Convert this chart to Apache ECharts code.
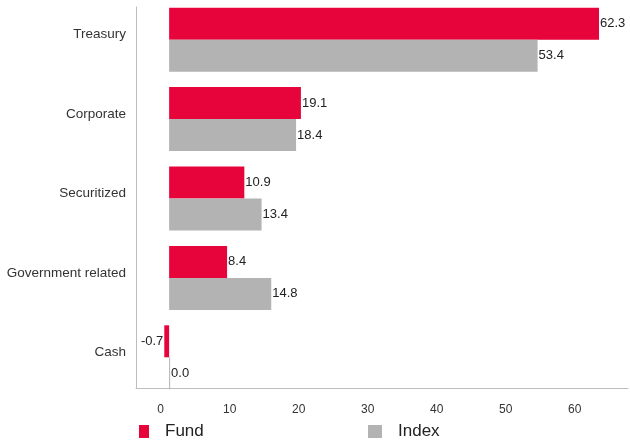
<!DOCTYPE html>
<html>
<head>
<meta charset="utf-8">
<script src="https://cdn.jsdelivr.net/npm/echarts@6/dist/echarts.min.js"></script>
<style>
  html, body { margin: 0; padding: 0; background: #fff; }
  #chart { width: 630px; height: 443px; }
</style>
</head>
<body>
<div id="chart"></div>
<script>
// data
var categories = ['Treasury', 'Corporate', 'Securitized', 'Government related', 'Cash'];
var fundValues = [62.3, 19.1, 10.9, 8.4, -0.7];
var indexValues = [53.4, 18.4, 13.4, 14.8, 0.0];
var xTicks = [0, 10, 20, 30, 40, 50, 60];

var FONT = '"Liberation Sans", Arial, sans-serif';
var RED = '#E6043B';
var GREY = '#B3B3B3';
var AXIS = '#BDBDBD';
var X_MIN = -4.8, X_MAX = 66.5;

// negative values get their label on the left side of the bar
var fundData = fundValues.map(function (v) {
  return v < 0 ? { value: v, label: { position: 'left' } } : v;
});

function fmt(p) { return Number(p.value).toFixed(1); }

var option = {
  animation: false,
  textStyle: { fontFamily: FONT },
  legend: [
    {
      data: ['Fund'], left: 139, top: 423, padding: 0,
      icon: 'rect', itemWidth: 10, itemHeight: 13,
      textStyle: { fontSize: 17, color: '#222', fontFamily: FONT, padding: [0, 0, 0, 11] }
    },
    {
      data: ['Index'], left: 368, top: 423, padding: 0,
      icon: 'rect', itemWidth: 14, itemHeight: 13,
      textStyle: { fontSize: 17, color: '#222', fontFamily: FONT, padding: [0, 0, 0, 11] }
    }
  ],
  grid: [
    // grid 0: axis lines and value labels
    { left: 136, right: 2, top: 7, bottom: 55, containLabel: false },
    // grid 1: bars and category labels
    { left: 136, right: 2, top: -1, bottom: 46, containLabel: false }
  ],
  xAxis: [
    {
      type: 'value', gridIndex: 0, min: X_MIN, max: X_MAX,
      splitLine: { show: false },
      axisTick: { show: false },
      axisLine: { show: true, onZero: false, lineStyle: { color: AXIS, width: 1 } },
      axisLabel: {
        customValues: xTicks,
        fontSize: 12, color: '#333', fontFamily: FONT,
        margin: 16, padding: [0, 17, 0, 0]
      }
    },
    {
      type: 'value', gridIndex: 1, min: X_MIN, max: X_MAX, show: false
    }
  ],
  yAxis: [
    {
      type: 'category', gridIndex: 0, data: categories, inverse: true,
      axisLine: { show: true, onZero: false, lineStyle: { color: AXIS, width: 1 } },
      axisTick: { show: false },
      axisLabel: { show: false }
    },
    {
      type: 'category', gridIndex: 1, data: categories, inverse: true,
      axisLine: { show: false },
      axisTick: { show: false },
      axisLabel: {
        fontSize: 13.5, color: '#333', fontFamily: FONT,
        margin: 10, lineHeight: 10,
        // second empty line lifts the name a few pixels above the group centre
        formatter: function (v) { return v + '\n '; }
      }
    }
  ],
  series: [
    {
      name: 'Fund', type: 'bar', xAxisIndex: 1, yAxisIndex: 1,
      data: fundData, barWidth: 32, barGap: '0%',
      itemStyle: { color: RED },
      label: { show: true, position: 'right', distance: 1, fontSize: 13, color: '#222', fontFamily: FONT, formatter: fmt }
    },
    {
      name: 'Index', type: 'bar', xAxisIndex: 1, yAxisIndex: 1,
      data: indexValues, barWidth: 32, barGap: '0%', barMinHeight: 1,
      itemStyle: { color: GREY },
      label: { show: true, position: 'right', distance: 1, fontSize: 13, color: '#222', fontFamily: FONT, formatter: fmt }
    }
  ]
};

var chart = echarts.init(document.getElementById('chart'), null, { renderer: 'canvas' });
chart.setOption(option);
</script>
</body>
</html>
